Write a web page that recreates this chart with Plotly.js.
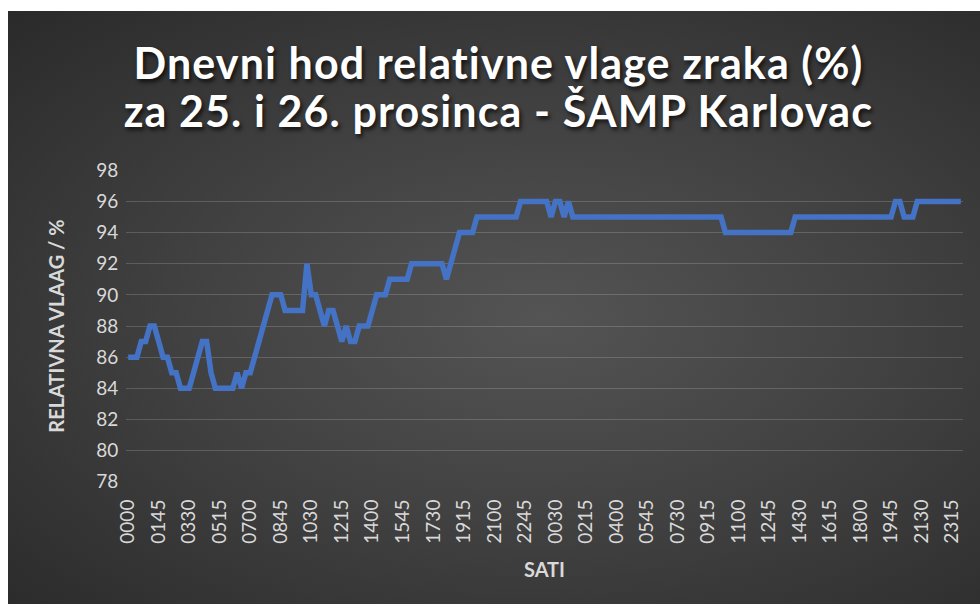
<!DOCTYPE html>
<html><head><meta charset="utf-8">
<script src="https://cdn.plot.ly/plotly-3.0.1.min.js"></script>
<style>
html,body{margin:0;padding:0;background:#ffffff;}
#bg{position:absolute;left:8px;top:11px;width:972px;height:593px;
background:radial-gradient(ellipse farthest-corner at 55% 52%, #545454 0%, #424242 45%, #2a2a2a 100%);}
#chart{position:absolute;left:0;top:0;width:980px;height:609px;}
#chart .annotation-text{letter-spacing:1.1px;}
</style></head><body>
<div id="bg"></div><div id="chart"></div>
<script>
// Relative humidity (%) every 15 minutes, 25 and 26 December
const humidity = [
 86,86,86,87,87,88,88,87,86,86,
 85,85,84,84,84,85,86,87,87,85,
 84,84,84,84,84,85,84,85,85,86,
 87,88,89,90,90,90,89,89,89,89,
 89,92,90,90,89,88,89,89,88,87,
 88,87,87,88,88,88,89,90,90,90,
 91,91,91,91,91,92,92,92,92,92,
 92,92,92,91,92,93,94,94,94,94,
 95,95,95,95,95,95,95,95,95,95,
 96,96,96,96,96,96,96,95,96,96,
 95,96,95,95,95,95,95,95,95,95,
 95,95,95,95,95,95,95,95,95,95,
 95,95,95,95,95,95,95,95,95,95,
 95,95,95,95,95,95,95,94,94,94,
 94,94,94,94,94,94,94,94,94,94,
 94,94,94,95,95,95,95,95,95,95,
 95,95,95,95,95,95,95,95,95,95,
 95,95,95,95,95,95,96,96,95,95,
 95,96,96,96,96,96,96,96,96,96,
 96,96
];
const tickLabels = ['0000','0145','0330','0515','0700','0845','1030','1215','1400','1545','1730','1915','2100','2245',
 '0030','0215','0400','0545','0730','0915','1100','1245','1430','1615','1800','1945','2130','2315'];
const labelEvery = 7; // one label per 7 quarter-hour slots
const slots = humidity.map((_, i) => i);
const tickVals = tickLabels.map((_, k) => k * labelEvery);
const titleLine1 = 'Dnevni hod relativne vlage zraka (%)';
const titleLine2 = 'za 25. i 26. prosinca - ŠAMP Karlovac';

const trace = {
  x: slots, y: humidity, type: 'scatter', mode: 'lines',
  line: {color: '#4472C4', width: 5.5}, hoverinfo: 'skip'
};
const titleFont = {family: 'Lato, sans-serif', size: 43, color: '#ffffff', weight: 'bold', shadow: '2px 3px 4px rgba(0,0,0,0.7)'};
const layout = {
  width: 980, height: 609,
  paper_bgcolor: 'rgba(0,0,0,0)', plot_bgcolor: 'rgba(0,0,0,0)',
  margin: {l: 126, r: 17, t: 170, b: 127},
  showlegend: false,
  font: {family: 'Lato, sans-serif', color: '#d9d9d9'},
  xaxis: {
    range: [-0.5, humidity.length - 0.5], tickmode: 'array', tickvals: tickVals, ticktext: tickLabels,
    tickangle: -90, tickfont: {size: 19, color: '#d9d9d9'}, showgrid: false, zeroline: false, showline: false,
    ticks: 'outside', ticklen: 9, tickcolor: 'rgba(0,0,0,0)',
    title: {text: 'SATI', font: {size: 20, color: '#d9d9d9', weight: 'bold'}, standoff: 20}
  },
  yaxis: {
    range: [77.98, 98.02], tickmode: 'linear', tick0: 78, dtick: 2,
    gridcolor: 'rgba(255,255,255,0.17)', gridwidth: 1, zeroline: false, showline: false,
    tickfont: {size: 19, color: '#d9d9d9'}, ticks: 'outside', ticklen: 3, tickcolor: 'rgba(0,0,0,0)',
    title: {text: 'RELATIVNA VLAAG / %', font: {size: 20, color: '#d9d9d9', weight: 'bold'}, standoff: 26}
  },
  annotations: [
    {text: titleLine1, xref: 'paper', yref: 'paper', x: 0.4456, y: 1.343, xanchor: 'center', yanchor: 'middle', showarrow: false, font: titleFont},
    {text: titleLine2, xref: 'paper', yref: 'paper', x: 0.4456, y: 1.192, xanchor: 'center', yanchor: 'middle', showarrow: false, font: titleFont}
  ]
};
Plotly.newPlot('chart', [trace], layout, {displayModeBar: false, staticPlot: true});
</script></body></html>
